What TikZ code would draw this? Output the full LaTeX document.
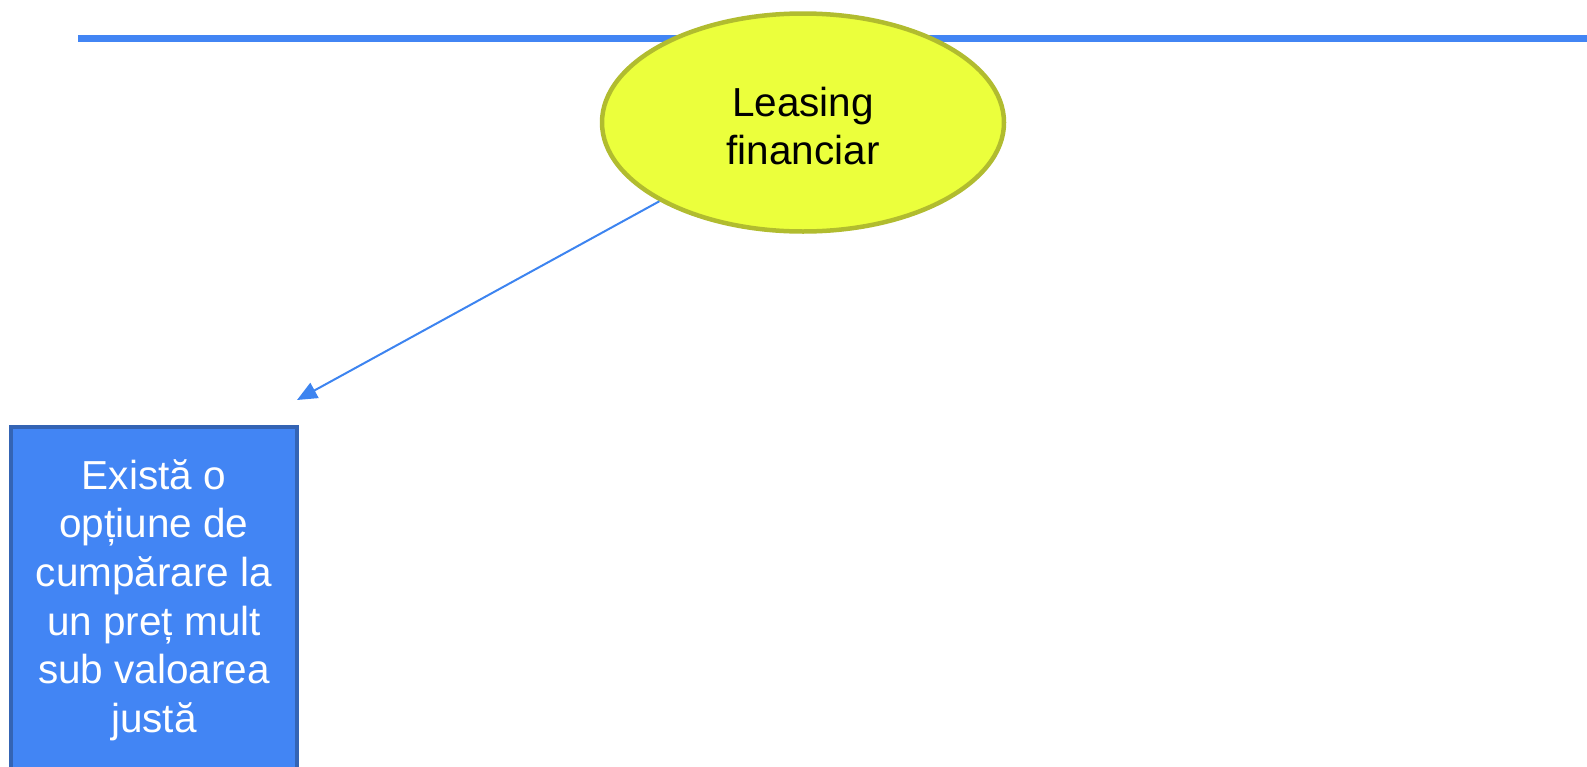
\documentclass[tikz,border=0pt]{standalone}
\usepackage{fontspec}
\setmainfont{Liberation Sans}
\usetikzlibrary{shapes.geometric,arrows.meta}
\definecolor{rulecol}{HTML}{4285F4}
\definecolor{ellfill}{HTML}{EBFF3C}
\definecolor{elldraw}{HTML}{B1BC2F}
\definecolor{boxfill}{HTML}{4285F4}
\definecolor{boxdraw}{HTML}{3464B4}
\definecolor{arrowcol}{HTML}{3D84F0}
\tikzset{
  topellipse/.style={ellipse, draw=elldraw, fill=ellfill, line width=4.5pt,
    minimum width=402pt, minimum height=218pt, inner sep=0pt, align=center,
    font=\fontsize{40.5}{48}\selectfont, text=black},
  bluebox/.style={rectangle, draw=boxdraw, fill=boxfill, line width=4pt,
    minimum width=286pt, minimum height=346pt, inner sep=0pt, align=center,
    font=\fontsize{40.5}{48.6}\selectfont, text=white},
  connector/.style={draw=arrowcol, line width=2pt,
    -{Triangle[length=20pt,width=17pt]}},
  toprule/.style={draw=rulecol, line width=7pt}
}
\begin{document}
\begin{tikzpicture}[x=1pt,y=-1pt]
\useasboundingbox (0,0) rectangle (1587,766);
\coordinate (hl1) at (78,38.5);
\coordinate (hl2) at (1587,38.5);
\draw[toprule] (hl1) -- (hl2);
\node[topellipse] (ell) at (803,122.5) {\rule{0pt}{36pt}Leasing\\financiar};
\node[bluebox] (box) at (154,600) {Există o\\opțiune de\\cumpărare la\\un preț mult\\sub valoarea\\justă};
\coordinate (tip) at (297,400);
\draw[connector] (ell) -- (tip);
\end{tikzpicture}
\end{document}
